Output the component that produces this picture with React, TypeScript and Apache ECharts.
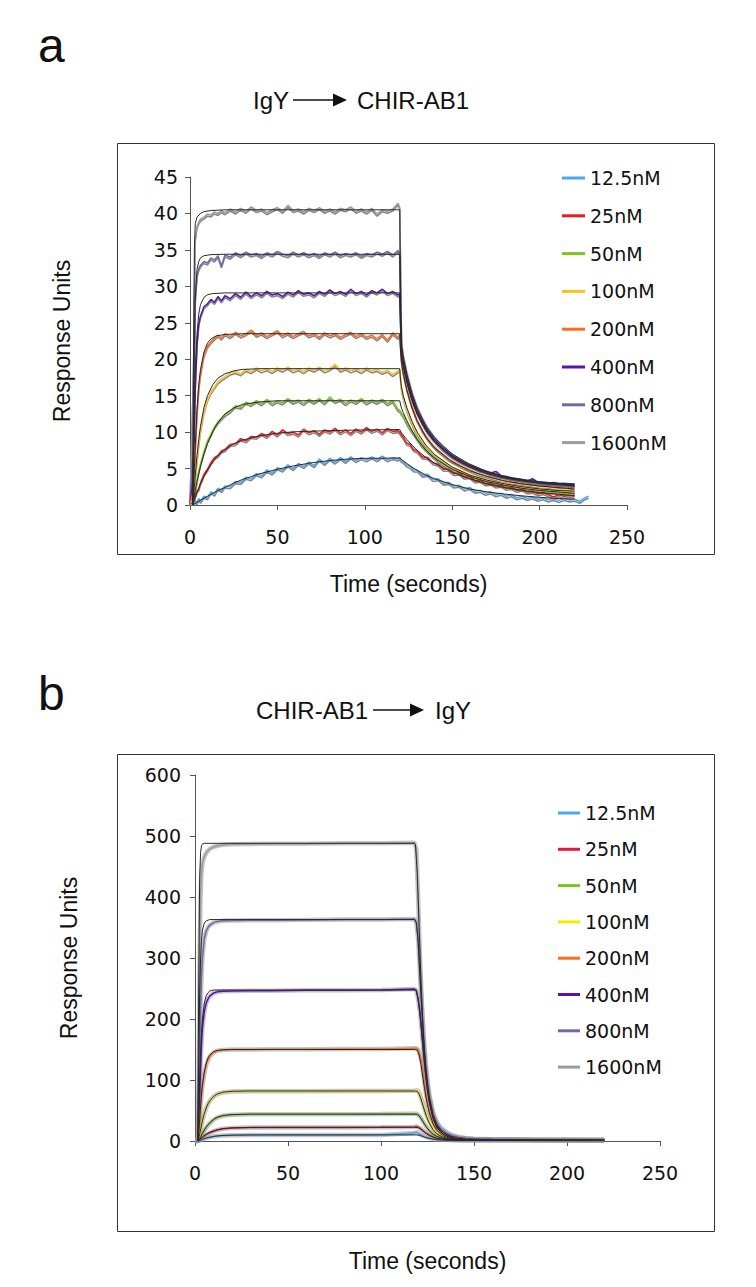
import React, { useEffect, useRef } from "react";
import * as echarts from "echarts";

// ---------- shared ----------
const concentrations = ["12.5nM", "25nM", "50nM", "100nM", "200nM", "400nM", "800nM", "1600nM"];
const colorsA = ["#48a8f4", "#ea1b1b", "#7cc41e", "#f6c41a", "#ff6a1c", "#5a12b0", "#6c6ba8", "#9b9b9b"];
const colorsB = ["#48a8f4", "#e8163e", "#7cc41e", "#f3ec00", "#ff6a1c", "#5a12b0", "#6c6ba8", "#9b9b9b"];
const xRange = [0, 250];
const xStep = 50;
const yRangeA = [0, 45];
const yStepA = 5;
const yRangeB = [0, 600];
const yStepB = 100;

// ---------- panel a : measured traces (time grid + values) ----------
const tA = [0, 2, 3, 4, 5, 6, 8, 10, 12, 14, 16, 18, 20,
  23, 26, 29, 32, 35, 38, 41, 44, 47, 50, 53, 56, 59, 62, 65, 68, 71, 74, 77, 80, 83, 86, 89, 92, 95, 98, 101, 104, 107, 110, 113, 116, 119,
  120, 121, 122, 124, 126, 128, 130,
  133, 136, 139, 142, 145, 148, 151, 154, 157, 160, 163, 166, 169, 172, 175, 178, 181, 184, 187, 190, 193, 196, 199, 202, 205, 208, 211, 214, 217, 220];

const a12_5 = [0, 0.1, 0.6, 0.3, 0.9, 0.5, 1.2, 1.0, 1.8, 1.5, 2.3, 2.0, 2.6,
  2.5, 3.2, 3.1, 3.8, 3.6, 4.3, 4.0, 4.8, 4.4, 5.1, 4.8, 5.5, 5.0, 5.7, 5.3, 5.9, 5.4, 6.3, 5.7, 6.4, 5.9, 6.5, 6.0, 6.6, 6.1, 6.5, 6.2, 6.6, 6.2, 6.7, 6.2, 6.5, 6.3,
  6.5, 6.1, 6.0, 5.5, 5.3, 4.8, 4.8,
  4.1, 4.2, 3.5, 3.6, 3.0, 3.1, 2.6, 2.7, 2.2, 2.4, 1.9, 2.0, 1.6, 1.8, 1.4, 1.6, 1.2, 1.4, 1.0, 1.2, 0.9, 1.1, 0.8, 1.0, 0.7, 0.9, 0.6, 0.9, 0.7, 0.8];
const a12_5Tail = [[223, 0.5], [226, 1.0], [228, 1.2]];
const a25 = [0, 0.4, 1.2, 1.9, 2.2, 3.0, 4.2, 4.9, 5.8, 6.5, 6.8, 7.4, 7.6,
  8.3, 8.4, 9.1, 8.8, 9.4, 9.3, 9.8, 9.4, 10.1, 9.6, 10.3, 9.8, 10.0, 9.6, 10.4, 9.9, 10.2, 9.7, 10.3, 10.0, 10.5, 9.9, 10.3, 9.8, 10.4, 10.0, 10.6, 10.1, 10.4, 9.9, 10.5, 10.1, 10.2,
  10.0, 9.6, 9.3, 8.5, 8.3, 7.6, 7.4,
  6.6, 6.5, 5.8, 5.6, 4.9, 4.9, 4.3, 4.4, 3.8, 3.9, 3.3, 3.4, 2.9, 3.0, 2.6, 2.7, 2.3, 2.4, 2.0, 2.2, 1.8, 1.9, 1.5, 1.7, 1.4, 1.1, 1.4, 1.2, 1.3, 1.2];
const a50 = [0, 0.5, 1.8, 3.3, 4.6, 5.6, 7.3, 8.8, 9.7, 10.7, 11.4, 11.9, 12.4,
  12.9, 13.6, 13.4, 14.1, 13.8, 14.3, 13.9, 14.5, 13.9, 14.3, 14.0, 14.6, 14.1, 14.4, 13.9, 14.5, 14.1, 14.6, 14.0, 14.8, 14.2, 14.5, 13.9, 14.4, 14.1, 14.6, 14.0, 14.4, 14.1, 14.5, 13.9, 14.3, 13.1,
  13.0, 12.6, 12.3, 11.3, 10.5, 9.8, 9.1,
  8.1, 7.4, 6.7, 6.1, 5.6, 5.2, 4.8, 4.5, 4.1, 3.9, 3.6, 3.4, 3.2, 3.0, 2.9, 2.7, 2.6, 2.5, 2.3, 2.2, 2.1, 2.0, 2.0, 1.9, 1.8, 1.8, 1.7, 1.6, 1.6, 1.5];
const a100 = [0, 0.8, 3.5, 6.0, 8.3, 10.2, 12.8, 14.5, 15.5, 16.2, 16.9, 17.3, 17.6,
  18.1, 18.3, 18.0, 18.6, 18.3, 18.8, 18.4, 18.7, 18.3, 18.8, 18.5, 18.9, 18.4, 18.7, 18.3, 18.8, 18.5, 18.9, 18.4, 18.7, 19.3, 18.5, 18.8, 18.4, 18.7, 18.3, 18.8, 18.4, 18.6, 18.2, 18.5, 17.9, 18.4,
  18.6, 16.0, 14.8, 13.1, 11.8, 10.7, 9.8,
  8.7, 7.8, 7.1, 6.5, 6.0, 5.5, 5.1, 4.8, 4.5, 4.2, 3.9, 3.7, 3.5, 3.3, 3.1, 3.0, 2.9, 2.7, 2.6, 2.5, 2.4, 2.3, 2.2, 2.2, 2.1, 2.0, 2.0, 1.9, 1.9, 1.8];
const a200 = [0, 2, 7.5, 12.5, 16.0, 18.0, 20.6, 21.8, 22.4, 22.9, 23.3, 22.9, 23.5,
  23.1, 23.7, 23.2, 23.5, 24.0, 23.3, 23.6, 23.1, 23.5, 23.9, 23.2, 23.6, 23.1, 23.5, 23.8, 23.2, 23.5, 23.0, 23.6, 23.2, 23.5, 23.0, 23.4, 23.7, 23.1, 23.5, 23.0, 23.3, 22.8, 23.4, 22.6, 23.6, 23.0,
  23.4, 19.8, 18.2, 16.0, 14.3, 12.9, 11.6,
  10.2, 9.1, 8.2, 7.5, 6.9, 6.3, 5.9, 5.5, 5.1, 4.8, 4.5, 4.2, 4.0, 3.8, 3.6, 3.4, 3.3, 3.1, 3.0, 2.9, 2.8, 2.7, 2.6, 2.5, 2.5, 2.4, 2.3, 2.3, 2.2, 2.1];
const a400 = [0, 4, 16, 22, 24.8, 25.9, 27.2, 27.6, 28.2, 27.8, 28.6, 28.0, 28.7,
  28.3, 29.0, 28.5, 29.2, 28.6, 29.1, 28.7, 29.3, 28.8, 29.0, 28.6, 29.2, 28.8, 29.4, 28.9, 29.1, 28.7, 29.3, 28.9, 29.5, 29.0, 29.3, 28.9, 29.6, 29.0, 29.3, 28.8, 29.4, 29.1, 29.6, 29.0, 29.3, 28.8,
  29.0, 20.8, 19.4, 17.2, 15.4, 13.9, 12.7,
  11.2, 10.0, 9.1, 8.3, 7.6, 7.0, 6.5, 6.1, 5.7, 5.4, 5.1, 4.8, 4.6, 4.4, 4.6, 4.0, 3.9, 3.7, 3.6, 3.5, 3.3, 3.6, 3.1, 3.0, 2.9, 3.1, 2.9, 2.8, 2.7, 2.6];
const a800 = [0, 8, 28, 31.5, 32.4, 32.9, 33.4, 33.2, 33.9, 33.6, 34.2, 32.8, 34.3,
  34.0, 34.6, 34.2, 34.7, 34.3, 34.5, 34.1, 34.6, 34.3, 34.8, 34.4, 34.2, 34.7, 34.3, 34.6, 34.2, 34.5, 34.1, 34.6, 34.3, 34.7, 34.2, 34.5, 34.3, 34.6, 34.1, 34.5, 34.3, 34.7, 34.4, 34.8, 34.3, 34.9,
  34.5, 21.8, 20.0, 17.7, 15.9, 14.4, 13.1,
  11.6, 10.4, 9.4, 8.5, 7.8, 7.2, 6.7, 6.2, 5.8, 5.5, 5.1, 4.8, 4.6, 4.3, 4.1, 3.9, 3.8, 3.6, 3.5, 3.4, 3.3, 3.1, 3.1, 3.0, 2.9, 2.9, 2.8, 2.8, 2.8, 2.7];
const a1600 = [0, 18, 36.5, 38.2, 38.8, 39.2, 39.5, 39.9, 39.8, 40.2, 40.0, 40.4, 40.1,
  40.6, 40.2, 40.7, 40.3, 40.9, 40.4, 40.6, 40.1, 40.5, 40.8, 40.3, 41.1, 40.4, 40.6, 40.2, 40.7, 40.4, 40.8, 40.3, 40.6, 40.2, 40.7, 40.5, 40.9, 40.3, 40.6, 40.2, 40.7, 39.9, 40.5, 40.3, 40.6, 41.4,
  40.8, 22.5, 20.6, 18.3, 16.4, 14.8, 13.5,
  11.9, 10.6, 9.6, 8.7, 7.9, 7.3, 6.8, 6.3, 5.9, 5.6, 5.3, 4.9, 4.7, 4.5, 4.2, 4.0, 3.9, 3.7, 3.6, 3.5, 3.4, 3.2, 3.2, 3.1, 3.0, 3.0, 2.9, 3.0, 2.9, 2.9];

// ---------- panel a : fitted curves [time, RU] ----------
const fitA12_5 = [[1.5, 0], [4, 0.4], [7, 0.8], [10, 1.2], [13, 1.6], [16, 2.0], [20, 2.4], [25, 3.0], [30, 3.5], [35, 3.9], [40, 4.3], [50, 4.9], [60, 5.4], [70, 5.8], [80, 6.1], [90, 6.3], [100, 6.4], [120, 6.45],
  [122, 6.05], [124, 5.7], [127, 5.2], [130, 4.75], [135, 4.1], [140, 3.6], [150, 2.8], [160, 2.2], [170, 1.8], [180, 1.5], [190, 1.25], [200, 1.05], [210, 0.9], [220, 0.8]];
const fitA25 = [[1.5, 0], [3, 1.0], [4, 1.7], [6, 2.9], [8, 3.9], [10, 4.8], [13, 5.9], [16, 6.8], [20, 7.6], [25, 8.4], [30, 8.9], [40, 9.5], [50, 9.85], [60, 10.05], [80, 10.2], [100, 10.3], [120, 10.35],
  [121, 9.9], [122, 9.6], [124, 9.0], [127, 8.2], [130, 7.5], [135, 6.5], [140, 5.7], [150, 4.5], [160, 3.6], [170, 2.9], [180, 2.4], [190, 2.0], [200, 1.7], [210, 1.5], [220, 1.3]];
const fitA50 = [[1.5, 0], [3, 2.0], [4, 3.2], [6, 5.3], [8, 7.0], [10, 8.4], [13, 10.1], [16, 11.3], [20, 12.5], [25, 13.3], [30, 13.8], [40, 14.15], [50, 14.3], [120, 14.3],
  [120.5, 13.7], [121, 13.3], [122, 12.7], [124, 11.6], [127, 10.2], [130, 9.0], [135, 7.5], [140, 6.4], [150, 4.9], [160, 3.9], [170, 3.2], [180, 2.7], [190, 2.3], [200, 2.0], [210, 1.8], [220, 1.6]];
const fitA100 = [[1.5, 0], [2.5, 2.5], [3, 4.0], [4, 6.8], [5, 9.0], [6, 10.8], [8, 13.4], [10, 15.0], [13, 16.5], [16, 17.4], [20, 18.0], [25, 18.4], [30, 18.6], [40, 18.7], [120, 18.7],
  [120.5, 17.0], [121, 16.2], [122, 15.0], [124, 13.4], [127, 11.5], [130, 10.0], [135, 8.2], [140, 6.9], [150, 5.2], [160, 4.1], [170, 3.4], [180, 2.9], [190, 2.5], [200, 2.2], [210, 2.0], [220, 1.9]];
const fitA200 = [[1.5, 0], [2.5, 5], [3, 8], [4, 13], [5, 16.5], [6, 18.6], [8, 21.0], [10, 22.2], [12, 22.8], [15, 23.2], [20, 23.4], [30, 23.5], [120, 23.5],
  [120.5, 21], [121, 19.6], [122, 18.0], [124, 15.8], [127, 13.3], [130, 11.5], [135, 9.3], [140, 7.8], [150, 5.9], [160, 4.7], [170, 3.9], [180, 3.3], [190, 2.9], [200, 2.6], [210, 2.4], [220, 2.2]];
const fitA400 = [[1.5, 0], [2, 6], [2.5, 13], [3, 18], [4, 23.5], [5, 26.2], [6, 27.5], [8, 28.5], [10, 28.85], [13, 29.0], [20, 29.1], [120, 29.1],
  [120.5, 23], [121, 20.2], [122, 18.9], [124, 16.8], [127, 14.3], [130, 12.4], [135, 10.2], [140, 8.6], [150, 6.5], [160, 5.2], [170, 4.3], [180, 3.7], [190, 3.3], [200, 3.0], [210, 2.8], [220, 2.6]];
const fitA800 = [[1.5, 0], [2, 10], [2.5, 22], [3, 28.5], [4, 32.3], [5, 33.4], [6, 33.9], [8, 34.2], [12, 34.35], [20, 34.4], [120, 34.4],
  [120.5, 25], [121, 21.0], [122, 19.6], [124, 17.4], [127, 14.8], [130, 12.8], [135, 10.5], [140, 8.9], [150, 6.8], [160, 5.4], [170, 4.5], [180, 3.8], [190, 3.4], [200, 3.1], [210, 2.9], [220, 2.8]];
const fitA1600 = [[1.5, 0], [2, 20], [2.5, 35], [3, 38.6], [4, 39.5], [6, 40.0], [8, 40.25], [12, 40.4], [20, 40.5], [120, 40.5],
  [120.5, 28], [121, 21.8], [122, 20.3], [124, 18.0], [127, 15.3], [130, 13.2], [135, 10.8], [140, 9.2], [150, 7.0], [160, 5.6], [170, 4.6], [180, 3.9], [190, 3.5], [200, 3.2], [210, 3.0], [220, 2.9]];

// ---------- panel b : measured traces ----------
const tB = [0, 1.5, 2, 2.5, 3, 3.5, 4, 5, 6, 7, 8, 10, 12, 15, 20, 30, 40, 60, 80, 100,
  118, 119, 120, 121, 122, 123, 124, 125, 126, 128, 130, 132, 135, 138, 142, 146, 150, 160, 180, 200, 220];
const b12_5 = [0, 0, 0.2, 0.7, 1.3, 2, 2.6, 3.7, 4.7, 5.5, 6.2, 7.4, 8.2, 9, 9.5, 9.8, 9.9, 10, 10, 10,
  13, 14.5, 12.5, 11, 9.5, 8, 6.8, 5.7, 4.8, 3.4, 2.5, 1.9, 1.5, 1.2, 1, 0.9, 0.8, 0.8, 0.7, 0.7, 0.6];
const b25 = [0, 0, 0.5, 1.5, 3, 4.5, 6, 8.5, 10.5, 12, 13.5, 16, 18, 20, 21.5, 22, 22.2, 22.3, 22.3, 22.4,
  23, 24, 22.5, 21, 18.5, 16, 13.5, 11.5, 9.5, 6.5, 4.5, 3.3, 2.4, 1.9, 1.6, 1.4, 1.3, 1.2, 1.1, 1, 1];
const b50 = [0, 0, 1, 3, 6, 9, 12, 17, 22, 26, 29, 35, 38.5, 41.5, 43, 43.8, 44, 44, 44, 44.2,
  44.5, 44.5, 43, 40, 35, 30, 25, 21, 17, 11.5, 8, 5.5, 3.8, 2.8, 2.2, 1.9, 1.7, 1.5, 1.4, 1.3, 1.2];
const b100 = [0, 0, 2, 8, 18, 27, 34, 45, 54, 61, 66, 73, 77, 79.5, 81, 81.5, 81.5, 81.5, 82, 82,
  82.5, 83, 82, 76, 67, 57, 47, 39, 32, 21, 14.5, 10, 6.5, 4.5, 3.2, 2.5, 2.2, 2, 1.8, 1.6, 1.5];
const b200 = [0, 0, 8, 30, 55, 75, 90, 110, 124, 133, 139, 145, 148, 149, 150, 150, 150.5, 150.5, 151, 151,
  152, 152, 150, 140, 128, 103, 80, 63, 50, 32, 21, 14.5, 9, 6, 4, 3, 2.5, 2.2, 1.9, 1.7, 1.5];
const b400 = [0, 0, 20, 70, 120, 160, 185, 212, 226, 233, 238, 242.5, 244.5, 245.5, 246, 246.5, 246.5, 247, 247, 247.5,
  249, 247, 232, 210, 178, 142, 110, 84, 64, 38, 25, 17, 11, 7.5, 5, 3.5, 2.8, 2.3, 2, 1.8, 1.5];
const b800 = [0, 0, 50, 140, 220, 270, 300, 332, 344, 350, 354, 358, 360, 361, 361.5, 362, 362, 362.5, 363, 363,
  364, 358, 330, 272, 215, 165, 125, 95, 72, 44, 29, 20, 13, 8.5, 5.5, 4, 3.2, 2.5, 2.1, 1.9, 1.6];
const b1600 = [0, 0, 120, 300, 400, 440, 455, 466, 472, 476, 479, 482, 484, 485.5, 486.5, 487, 487.5, 487.5, 488, 488,
  489, 478, 395, 300, 225, 168, 128, 98, 76, 47, 31, 22, 15, 10, 6.5, 4.5, 3.5, 2.8, 2.3, 2, 1.8];

// ---------- panel b : fitted curves ----------
const fitB12_5 = [[1.5, 0], [2, 0.3], [2.5, 0.9], [3, 1.5], [3.5, 2.1], [4, 2.7], [5, 3.8], [6, 4.8], [7, 5.6], [8, 6.3], [10, 7.5], [12, 8.3], [15, 9.1], [20, 9.6], [30, 9.9], [40, 10], [118, 10],
  [119.5, 9.9], [120.5, 9.4], [121.5, 8.5], [122.5, 7.4], [123.5, 6.3], [124.5, 5.4], [126, 4.2], [128, 3], [130, 2.2], [133, 1.5], [136, 1.1], [140, 0.9], [146, 0.8], [160, 0.7], [220, 0.6]];
const fitB25 = [[1.5, 0], [2, 0.7], [2.5, 2], [3, 3.5], [3.5, 5], [4, 6.5], [5, 9], [6, 11], [7, 12.8], [8, 14.3], [10, 16.7], [12, 18.4], [15, 20.2], [20, 21.6], [30, 22.2], [40, 22.4], [118, 22.5],
  [119.5, 22.2], [120.5, 21], [121.5, 19], [122.5, 16.5], [123.5, 14], [124.5, 12], [126, 9.2], [128, 6.5], [130, 4.6], [133, 3], [136, 2.1], [140, 1.6], [146, 1.3], [160, 1.1], [220, 0.9]];
const fitB50 = [[1.5, 0], [2, 1.5], [2.5, 4], [3, 7], [3.5, 10], [4, 13], [5, 18], [6, 23], [7, 27], [8, 30], [10, 35.5], [12, 39], [15, 41.8], [20, 43.3], [30, 44], [118, 44],
  [119.5, 43.5], [120.5, 41], [121.5, 37], [122.5, 32], [123.5, 27], [124.5, 22.5], [126, 16.5], [128, 11], [130, 7.5], [133, 4.5], [136, 3], [140, 2.2], [146, 1.6], [160, 1.3], [220, 1]];
const fitB100 = [[1.5, 0], [2, 4], [2.5, 11], [3, 18], [3.5, 26], [4, 33], [5, 45], [6, 54], [7, 61], [8, 66], [10, 73], [12, 77], [15, 80], [20, 81.5], [30, 82], [118, 82],
  [119.5, 81.5], [120.5, 77], [121.5, 69], [122.5, 59], [123.5, 49], [124.5, 40], [126, 29], [128, 18.5], [130, 12], [133, 6.5], [136, 4], [140, 2.6], [146, 1.8], [160, 1.4], [220, 1.1]];
const fitB200 = [[1.5, 0], [2, 12], [2.5, 35], [3, 58], [3.5, 77], [4, 92], [5, 113], [6, 127], [7, 136], [8, 141], [10, 146.5], [12, 148.5], [15, 149.5], [20, 150], [118, 150],
  [119.5, 149], [120.5, 141], [121.5, 125], [122.5, 104], [123.5, 84], [124.5, 66], [126, 46], [128, 28], [130, 17.5], [133, 9], [136, 5.5], [140, 3.5], [146, 2.2], [160, 1.6], [220, 1.2]];
const fitB400 = [[1.5, 0], [2, 40], [2.5, 100], [3, 145], [3.5, 178], [4, 200], [5, 226], [6, 238], [7, 243], [8, 246], [10, 247.5], [118, 247.5],
  [119, 246], [120, 232], [121, 205], [122, 172], [123, 139], [124, 109], [125, 84], [126, 64], [128, 37], [130, 22], [133, 12], [136, 7], [140, 4], [146, 2.5], [160, 1.8], [220, 1.3]];
const fitB800 = [[1.5, 0], [2, 120], [2.5, 240], [3, 300], [3.5, 330], [4, 346], [5, 357], [6, 361], [8, 363], [118, 363],
  [119, 358], [120, 325], [121, 268], [122, 212], [123, 163], [124, 124], [125, 94], [126, 72], [128, 43], [130, 27], [133, 15], [136, 9], [140, 5], [146, 3], [160, 2], [220, 1.4]];
const fitB1600 = [[1.5, 0], [2, 260], [2.5, 430], [3, 473], [3.5, 484], [4, 487], [5, 488], [118, 488],
  [118.5, 486], [119.5, 440], [120.5, 350], [121.5, 262], [122.5, 192], [123.5, 140], [124.5, 103], [126, 66], [128, 38], [130, 23], [133, 12], [136, 7], [140, 4], [146, 2.5], [160, 1.8], [220, 1.2]];

const dataA = [a12_5, a25, a50, a100, a200, a400, a800, a1600];
const fitsA = [fitA12_5, fitA25, fitA50, fitA100, fitA200, fitA400, fitA800, fitA1600];
const dataB = [b12_5, b25, b50, b100, b200, b400, b800, b1600];
const fitsB = [fitB12_5, fitB25, fitB50, fitB100, fitB200, fitB400, fitB800, fitB1600];

const pairs = (ts: number[], vs: number[]) => ts.map((t, i) => [t, vs[i]]);

const TICK_FONT = "DejaVu Sans, Verdana, sans-serif";
const NAME_FONT = "Liberation Sans, Arial, sans-serif";
const TITLE_FONT = "24px Liberation Sans, Arial, sans-serif";

function axisCommon() {
  return {
    axisLine: { show: true, onZero: false, lineStyle: { color: "#555", width: 1 } },
    axisTick: { show: true, length: 5, lineStyle: { color: "#555", width: 1 } },
    splitLine: { show: false },
    axisLabel: { fontSize: 19, fontFamily: TICK_FONT, color: "#111" },
    nameTextStyle: { fontSize: 23, fontFamily: NAME_FONT, color: "#111" },
    nameLocation: "middle" as const,
  };
}

function buildOption() {
  const series: any[] = [];
  // panel a: draw highest concentration first
  for (let i = concentrations.length - 1; i >= 0; i--) {
    let d = pairs(tA, dataA[i]);
    if (i === 0) d = d.concat(a12_5Tail);
    series.push({
      type: "line", name: "A|" + concentrations[i], xAxisIndex: 0, yAxisIndex: 0,
      data: d, symbol: "none", z: 2,
      itemStyle: { color: colorsA[i] },
      lineStyle: { color: colorsA[i], width: 1.6, shadowColor: "rgba(105,105,105,0.8)", shadowBlur: 1, shadowOffsetY: 2 },
    });
  }
  for (let i = concentrations.length - 1; i >= 0; i--) {
    series.push({
      type: "line", xAxisIndex: 0, yAxisIndex: 0, data: fitsA[i], symbol: "none", z: 3, silent: true,
      lineStyle: { color: "#2a2a2a", width: 1 },
    });
  }
  // panel b
  for (let i = concentrations.length - 1; i >= 0; i--) {
    const d = pairs(tB, dataB[i]);
    series.push({
      type: "line", xAxisIndex: 1, yAxisIndex: 1, data: d, symbol: "none", z: 1, silent: true,
      lineStyle: { color: "rgba(150,150,150,0.55)", width: 4.5 },
    });
    series.push({
      type: "line", name: "B|" + concentrations[i], xAxisIndex: 1, yAxisIndex: 1,
      data: d, symbol: "none", z: 2,
      itemStyle: { color: colorsB[i] },
      lineStyle: { color: colorsB[i], width: 1.5 },
    });
  }
  for (let i = concentrations.length - 1; i >= 0; i--) {
    series.push({
      type: "line", xAxisIndex: 1, yAxisIndex: 1, data: fitsB[i], symbol: "none", z: 3, silent: true,
      lineStyle: { color: "#2a2a2a", width: 1 },
    });
  }

  const legendCommon = {
    orient: "vertical" as const,
    icon: "rect",
    itemHeight: 3,
    selectedMode: false,
    padding: 0,
    formatter: (n: string) => n.split("|")[1],
    textStyle: { fontSize: 19, fontFamily: TICK_FONT, color: "#111", lineHeight: 20 },
    lineStyle: { shadowBlur: 0, shadowOffsetY: 0, shadowColor: "transparent" },
  };

  const arrowA = { x1: 293, x2: 334, y: 100, tip: 347 };
  const arrowB = { x1: 373, x2: 411, y: 710, tip: 424 };

  return {
    animation: false,
    backgroundColor: "#ffffff",
    grid: [
      { left: 190, top: 177, width: 437, height: 328 },
      { left: 195, top: 775, width: 465, height: 366 },
    ],
    xAxis: [
      { ...axisCommon(), gridIndex: 0, type: "value", min: xRange[0], max: xRange[1], interval: xStep,
        name: "Time (seconds)", nameGap: 67, axisLabel: { ...axisCommon().axisLabel, margin: 22 } },
      { ...axisCommon(), gridIndex: 1, type: "value", min: xRange[0], max: xRange[1], interval: xStep,
        name: "Time (seconds)", nameGap: 108, axisLabel: { ...axisCommon().axisLabel, margin: 22 } },
    ],
    yAxis: [
      { ...axisCommon(), gridIndex: 0, type: "value", min: yRangeA[0], max: yRangeA[1], interval: yStepA,
        name: "Response Units", nameGap: 117, nameRotate: 90, axisLabel: { ...axisCommon().axisLabel, margin: 12 } },
      { ...axisCommon(), gridIndex: 1, type: "value", min: yRangeB[0], max: yRangeB[1], interval: yStepB,
        name: "Response Units", nameGap: 115, nameRotate: 90, axisLabel: { ...axisCommon().axisLabel, margin: 14 } },
    ],
    legend: [
      { ...legendCommon, left: 562, top: 168, itemWidth: 23, itemGap: 17.8,
        data: concentrations.map((c) => "A|" + c) },
      { ...legendCommon, left: 558, top: 803, itemWidth: 22, itemGap: 16.3,
        data: concentrations.map((c) => "B|" + c) },
    ],
    graphic: [
      { type: "rect", shape: { x: 117.5, y: 143.5, width: 597, height: 411 }, style: { fill: "none", stroke: "#333", lineWidth: 1 }, z: -1 },
      { type: "rect", shape: { x: 117.5, y: 754.5, width: 597, height: 477 }, style: { fill: "none", stroke: "#333", lineWidth: 1 }, z: -1 },
      { type: "text", x: 38, y: 45, style: { text: "a", font: "48px Liberation Sans, Arial, sans-serif", fill: "#111", verticalAlign: "middle", align: "left" } },
      { type: "text", x: 38, y: 693, style: { text: "b", font: "48px Liberation Sans, Arial, sans-serif", fill: "#111", verticalAlign: "middle", align: "left" } },
      // title a
      { type: "text", x: arrowA.x1 - 4, y: arrowA.y, style: { text: "IgY", font: TITLE_FONT, fill: "#111", align: "right", verticalAlign: "middle" } },
      { type: "line", shape: { x1: arrowA.x1, y1: arrowA.y, x2: arrowA.x2, y2: arrowA.y }, style: { stroke: "#111", lineWidth: 1.5 } },
      { type: "polygon", shape: { points: [[arrowA.x2 - 1, arrowA.y - 6.5], [arrowA.tip, arrowA.y], [arrowA.x2 - 1, arrowA.y + 6.5]] }, style: { fill: "#111" } },
      { type: "text", x: arrowA.tip + 10, y: arrowA.y, style: { text: "CHIR-AB1", font: TITLE_FONT, fill: "#111", align: "left", verticalAlign: "middle" } },
      // title b
      { type: "text", x: arrowB.x1 - 5, y: arrowB.y, style: { text: "CHIR-AB1", font: TITLE_FONT, fill: "#111", align: "right", verticalAlign: "middle" } },
      { type: "line", shape: { x1: arrowB.x1, y1: arrowB.y, x2: arrowB.x2, y2: arrowB.y }, style: { stroke: "#111", lineWidth: 1.5 } },
      { type: "polygon", shape: { points: [[arrowB.x2 - 1, arrowB.y - 6.5], [arrowB.tip, arrowB.y], [arrowB.x2 - 1, arrowB.y + 6.5]] }, style: { fill: "#111" } },
      { type: "text", x: arrowB.tip + 11, y: arrowB.y, style: { text: "IgY", font: TITLE_FONT, fill: "#111", align: "left", verticalAlign: "middle" } },
    ],
    series,
  };
}

export default function App() {
  const ref = useRef<HTMLDivElement>(null);
  useEffect(() => {
    if (!ref.current) return;
    const chart = echarts.init(ref.current, undefined, { renderer: "svg" });
    chart.setOption(buildOption() as any);
    return () => chart.dispose();
  }, []);
  return <div ref={ref} style={{ position: "absolute", left: 0, top: 0, width: 756, height: 1287, background: "#fff" }} />;
}
